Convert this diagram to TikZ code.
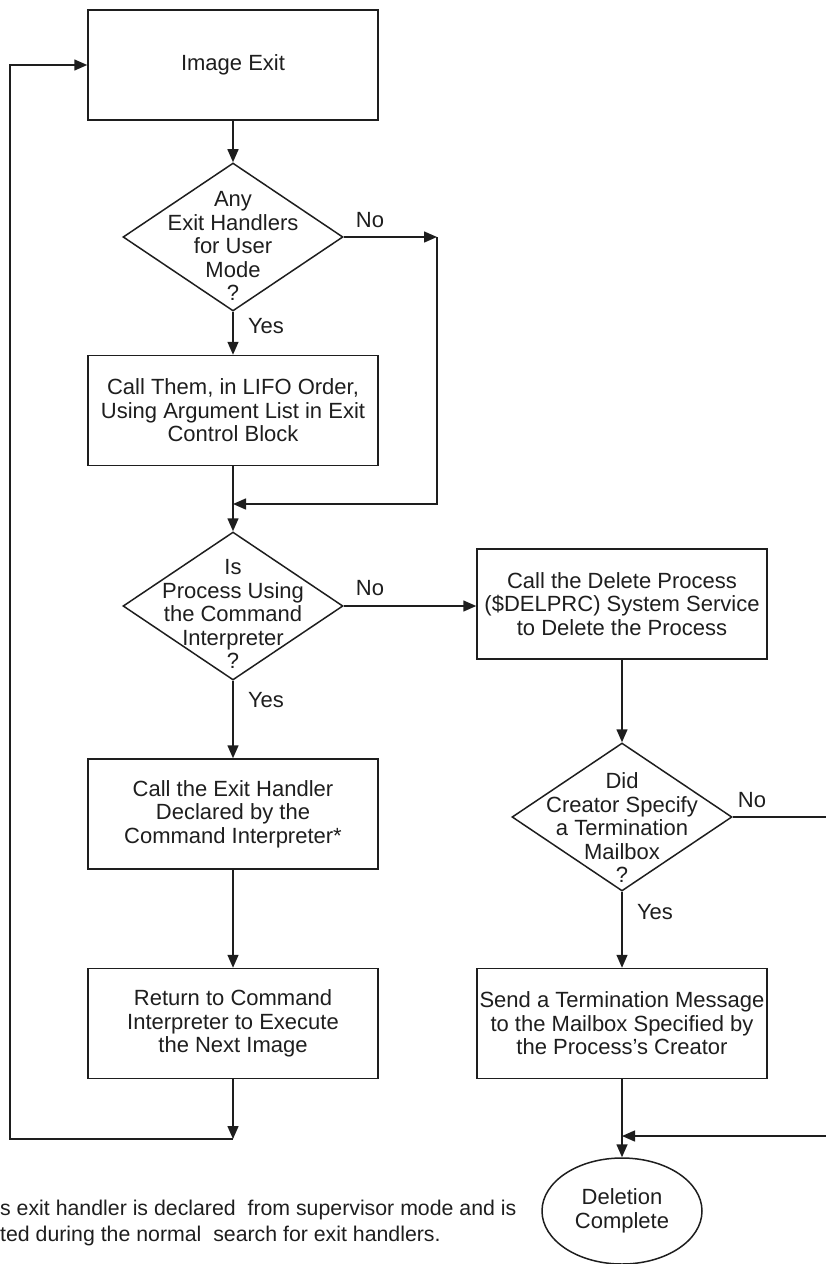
\documentclass[tikz,border=0pt]{standalone}
\usepackage{fontspec}
\setmainfont{Liberation Sans}
\usetikzlibrary{shapes.geometric,arrows.meta}
\definecolor{ink}{RGB}{30,30,30}
\tikzset{
 every node/.style={font=\fontsize{22}{23.5}\selectfont, text=ink},
 proc/.style={draw=ink, line width=1.5pt, rectangle, minimum width=290pt, minimum height=110pt, align=center, inner sep=0pt},
 decision/.style={draw=ink, line width=1.5pt, diamond, minimum width=220pt, minimum height=148pt, inner sep=0pt},
 dtext/.style={align=center, inner sep=0pt},
 term/.style={draw=ink, line width=1.5pt, ellipse, minimum width=160pt, minimum height=106pt, align=center, inner sep=0pt},
 conn/.style={draw=ink, line width=1.5pt},
 arr/.style={conn, -{Triangle[length=13pt,width=11pt]}},
 lbl/.style={inner sep=0pt},
}
\begin{document}
\begin{tikzpicture}[x=1pt,y=-1pt]
\useasboundingbox (0,0) rectangle (826,1264);
\clip (0,0) rectangle (826,1264);
% left column
\node[proc] (ie) at (233,65) {Image Exit};
\node[decision] (d1) at (233,237) {};
\node[dtext] (d1t) at (233,246) {Any\\Exit Handlers\\for User\\Mode\\?};
\node[proc] (b2) at (233,410.5) {Call Them, in LIFO Order,\\Using Argument List in Exit\\Control Block};
\node[decision] (d2) at (233,606) {};
\node[dtext] (d2t) at (233,614) {Is\\Process Using\\the Command\\Interpreter\\?};
\node[proc] (b3) at (233,814) {Call the Exit Handler\\Declared by the\\Command Interpreter*};
\node[proc] (b4) at (233,1023.5) {Return to Command\\Interpreter to Execute\\the Next Image};
% right column
\node[proc] (r1) at (622,604) {Call the Delete Process\\(\$DELPRC) System Service\\to Delete the Process};
\node[decision] (d3) at (622,817) {};
\node[dtext] (d3t) at (622,828) {Did\\Creator Specify\\a Termination\\Mailbox\\?};
\node[proc] (r2) at (622,1023.5) {Send a Termination Message\\to the Mailbox Specified by\\the Process's Creator};
\node[term] (dc) at (622,1211) {Deletion\\Complete};
% labels
\node[lbl] (n1) at (370,220) {No};
\node[lbl] (y1) at (266,326) {Yes};
\node[lbl] (n2) at (370,588) {No};
\node[lbl] (y2) at (266,700) {Yes};
\node[lbl] (n3) at (752,800) {No};
\node[lbl] (y3) at (655,912) {Yes};
% footnote
\node[anchor=west, align=left, inner sep=0pt, font=\fontsize{21.3}{26}\selectfont] (fn) at (0,1223) {s exit handler is declared\ \ from supervisor mode and is\\ted during the normal\ \ search for exit handlers.};
% coordinates
\coordinate (c1) at (437,237);
\coordinate (m1) at (233,504);
\coordinate (c2) at (845,817);
\coordinate (m2) at (622,1136);
\coordinate (lb) at (233,1139);
\coordinate (lc) at (10,1139);
% connectors
\draw[arr] (ie) -- (d1);
\draw[arr] (d1) -- (b2);
\draw[arr] (d1.east) -- (c1);
\draw[arr] (c1) |- (m1);
\draw[arr] (b2) -- (d2);
\draw[arr] (d2) -- (b3);
\draw[arr] (b3) -- (b4);
\draw[arr] (d2.east) -- (d2.east -| r1.west);
\draw[arr] (r1) -- (d3);
\draw[arr] (d3) -- (r2);
\draw[arr] (r2) -- (dc);
\draw[arr] (d3.east) -- (c2) |- (m2);
\draw[arr] (b4) -- (lb);
\draw[arr] (lb) -- (lc) |- (ie.west);
\end{tikzpicture}
\end{document}
